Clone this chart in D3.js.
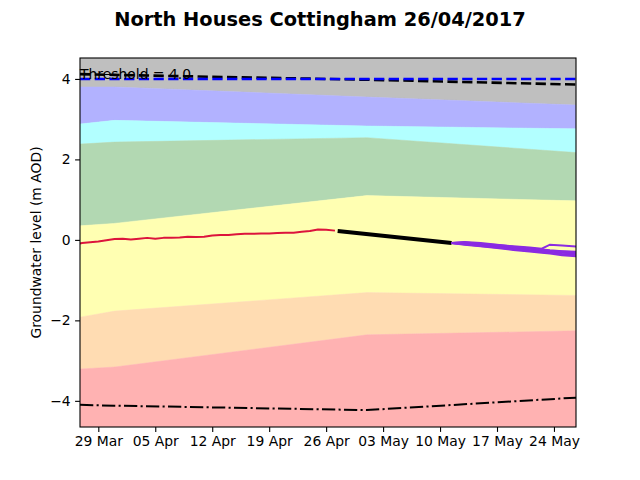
<!DOCTYPE html>
<html>
<head>
<meta charset="utf-8">
<script src="https://cdn.jsdelivr.net/npm/d3@7"></script>
<style>
  body { margin: 0; background: #fff; }
  svg { font-family: "DejaVu Sans", sans-serif; }
</style>
</head>
<body>
<svg id="chart" width="640" height="480"></svg>
<script>
const parseTime = d3.utcParse("%Y-%m-%dT%H:%M");

const TITLE = "North Houses Cottingham 26/04/2017";
const Y_LABEL = "Groundwater level (m AOD)";
const THRESHOLD = 4.0;

// band boundaries, read at a few dates
const bandDates = ["2017-03-26T18:00", "2017-03-31T00:00", "2017-05-01T00:00", "2017-05-26T17:00"];
const blueTop   = [3.80, 3.80, 3.55, 3.35];
const cyanTop   = [2.88, 2.97, 2.83, 2.76];
const greenTop  = [2.38, 2.43, 2.54, 2.17];
const yellowTop = [0.35, 0.41, 1.10, 0.97];
const orangeTop = [-1.92, -1.77, -1.31, -1.38];
const pinkTop   = [-3.21, -3.16, -2.36, -2.26];
const maxLevel  = [4.12, 4.10, 3.98, 3.86];
const minLevel  = [-4.10, -4.12, -4.23, -3.92];

// observed levels
const obsDates = [
  "2017-03-26T18:00", "2017-03-27T00:00", "2017-03-28T00:00", "2017-03-29T00:00",
  "2017-03-30T00:00", "2017-03-31T00:00", "2017-04-01T00:00", "2017-04-02T00:00",
  "2017-04-03T00:00", "2017-04-04T00:00", "2017-04-05T00:00", "2017-04-06T00:00",
  "2017-04-07T00:00", "2017-04-08T00:00", "2017-04-09T00:00", "2017-04-10T00:00",
  "2017-04-11T00:00", "2017-04-12T00:00", "2017-04-13T00:00", "2017-04-14T00:00",
  "2017-04-15T00:00", "2017-04-16T00:00", "2017-04-17T00:00", "2017-04-18T00:00",
  "2017-04-19T00:00", "2017-04-20T00:00", "2017-04-21T00:00", "2017-04-22T00:00",
  "2017-04-23T00:00", "2017-04-24T00:00", "2017-04-25T00:00", "2017-04-26T00:00",
  "2017-04-27T02:00"
];
const obsLevels = [
  -0.09, -0.08, -0.06, -0.04, -0.01, 0.02, 0.03, 0.01,
  0.03, 0.05, 0.03, 0.05, 0.05, 0.06, 0.08, 0.07,
  0.08, 0.11, 0.12, 0.12, 0.14, 0.15, 0.15, 0.16,
  0.16, 0.17, 0.18, 0.18, 0.20, 0.22, 0.26, 0.25,
  0.23
];

// short-term forecast
const fcDates = ["2017-04-27T10:00", "2017-05-11T10:00"];
const fcLevels = [0.22, -0.08];

// ensemble runs
const ensDates = [
  "2017-05-11T10:00", "2017-05-13T00:00", "2017-05-15T00:00", "2017-05-17T00:00",
  "2017-05-19T00:00", "2017-05-21T00:00", "2017-05-22T12:00", "2017-05-23T12:00",
  "2017-05-25T00:00", "2017-05-27T00:00"
];
const ensA = [-0.08, -0.06, -0.10, -0.13, -0.16, -0.19, -0.22, -0.12, -0.14, -0.17];
const ensB = [-0.08, -0.09, -0.12, -0.16, -0.19, -0.22, -0.25, -0.27, -0.29, -0.31];
const ensC = [-0.08, -0.10, -0.14, -0.18, -0.21, -0.25, -0.27, -0.29, -0.32, -0.34];
const ensD = [-0.08, -0.11, -0.15, -0.19, -0.23, -0.27, -0.30, -0.32, -0.35, -0.38];
const ensE = [-0.08, -0.12, -0.16, -0.20, -0.25, -0.29, -0.32, -0.34, -0.38, -0.41];
const ensF = [-0.08, -0.05, -0.08, -0.12, -0.17, -0.21, -0.24, -0.26, -0.28, -0.30];

const xTicks = ["2017-03-29T00:00", "2017-04-05T00:00", "2017-04-12T00:00", "2017-04-19T00:00",
  "2017-04-26T00:00", "2017-05-03T00:00", "2017-05-10T00:00", "2017-05-17T00:00", "2017-05-24T00:00"];
const yTicks = [-4, -2, 0, 2, 4];

const LEFT = 80, RIGHT = 576, TOP = 58, BOTTOM = 427;

const svg = d3.select("#chart");

const x = d3.scaleUtc()
  .domain([parseTime("2017-03-26T18:00"), parseTime("2017-05-26T17:00")])
  .range([LEFT, RIGHT]);
const y = d3.scaleLinear()
  .domain([-4.65, 4.52])
  .range([BOTTOM, TOP]);

svg.append("defs").append("clipPath").attr("id", "plot-clip")
  .append("rect")
  .attr("x", LEFT).attr("y", TOP)
  .attr("width", RIGHT - LEFT).attr("height", BOTTOM - TOP);

const plot = svg.append("g").attr("clip-path", "url(#plot-clip)");

const bd = bandDates.map(parseTime);
const yMax = y.domain()[1], yMin = y.domain()[0];
const bands = [
  {lo: blueTop,   hi: bandDates.map(() => yMax), color: "#bfbfbf"},
  {lo: cyanTop,   hi: blueTop,   color: "#b2b2ff"},
  {lo: greenTop,  hi: cyanTop,   color: "#b2ffff"},
  {lo: yellowTop, hi: greenTop,  color: "#b2d8b2"},
  {lo: orangeTop, hi: yellowTop, color: "#ffffb2"},
  {lo: pinkTop,   hi: orangeTop, color: "#ffdcb2"},
  {lo: bandDates.map(() => yMin), hi: pinkTop, color: "#ffb2b2"}
];

const area = d3.area()
  .x(d => x(d.t))
  .y0(d => y(d.lo))
  .y1(d => y(d.hi));

plot.selectAll("path.band")
  .data(bands)
  .enter()
  .append("path")
  .attr("class", "band")
  .attr("fill", b => b.color)
  .attr("stroke", b => b.color)
  .attr("stroke-width", 0.5)
  .attr("d", b => area(bd.map((t, i) => ({t: t, lo: b.lo[i], hi: b.hi[i]}))));

const line = d3.line().x(d => x(d.t)).y(d => y(d.v));
const toPoints = (dates, vals) => dates.map((s, i) => ({t: parseTime(s), v: vals[i]}));

// max envelope (black dashed) then threshold (blue dashed)
plot.append("path")
  .attr("d", line(toPoints(bandDates, maxLevel)))
  .attr("fill", "none").attr("stroke", "#000")
  .attr("stroke-width", 2.6).attr("stroke-dasharray", "10.3,4.4");

plot.append("path")
  .attr("d", line(toPoints([bandDates[0], bandDates[3]], [THRESHOLD, THRESHOLD])))
  .attr("fill", "none").attr("stroke", "#0000ff")
  .attr("stroke-width", 2.6).attr("stroke-dasharray", "10.3,4.4");

plot.append("path")
  .attr("d", line(toPoints(bandDates, minLevel)))
  .attr("fill", "none").attr("stroke", "#000")
  .attr("stroke-width", 2).attr("stroke-dasharray", "13.3,3.3,2.1,3.3");

plot.append("path")
  .attr("d", line(toPoints(obsDates, obsLevels)))
  .attr("fill", "none").attr("stroke", "#dc143c")
  .attr("stroke-width", 2).attr("stroke-linejoin", "round");

plot.append("path")
  .attr("d", line(toPoints(fcDates, fcLevels)))
  .attr("fill", "none").attr("stroke", "#000")
  .attr("stroke-width", 4);

plot.selectAll("path.ens")
  .data([ensA, ensB, ensC, ensD, ensE, ensF])
  .enter()
  .append("path")
  .attr("class", "ens")
  .attr("d", vals => line(toPoints(ensDates, vals)))
  .attr("fill", "none").attr("stroke", "#8a2be2")
  .attr("stroke-width", 2);

svg.append("text")
  .attr("x", LEFT).attr("y", y(THRESHOLD))
  .attr("font-size", "13.9px")
  .text("Threshold = " + THRESHOLD.toFixed(1));

// axes
svg.append("g")
  .attr("transform", `translate(0,${BOTTOM})`)
  .call(d3.axisBottom(x)
    .tickValues(xTicks.map(parseTime))
    .tickFormat(d3.utcFormat("%d %b"))
    .tickSize(4.9).tickPadding(4.5))
  .call(g => g.select(".domain").remove())
  .call(g => g.selectAll("text").attr("font-size", "13.9px").attr("font-family", "DejaVu Sans").attr("fill", "#000"))
  .call(g => g.selectAll("line").attr("stroke-width", 1.1));

svg.append("g")
  .attr("transform", `translate(${LEFT},0)`)
  .call(d3.axisLeft(y)
    .tickValues(yTicks)
    .tickFormat(d3.format("d"))
    .tickSize(4.9).tickPadding(4.5))
  .call(g => g.select(".domain").remove())
  .call(g => g.selectAll("text").attr("font-size", "13.9px").attr("font-family", "DejaVu Sans").attr("fill", "#000"))
  .call(g => g.selectAll("line").attr("stroke-width", 1.1));

svg.append("rect")
  .attr("x", LEFT).attr("y", TOP)
  .attr("width", RIGHT - LEFT).attr("height", BOTTOM - TOP)
  .attr("fill", "none").attr("stroke", "#000").attr("stroke-width", 1.1);

svg.append("text")
  .attr("transform", `translate(37,${(TOP + BOTTOM) / 2}) rotate(-90)`)
  .attr("text-anchor", "middle")
  .attr("dominant-baseline", "middle")
  .attr("font-size", "13.9px")
  .text(Y_LABEL);

svg.append("text")
  .attr("x", 320).attr("y", 26)
  .attr("text-anchor", "middle")
  .attr("font-size", "19.4px")
  .attr("font-weight", "bold")
  .text(TITLE);
</script>
</body>
</html>
